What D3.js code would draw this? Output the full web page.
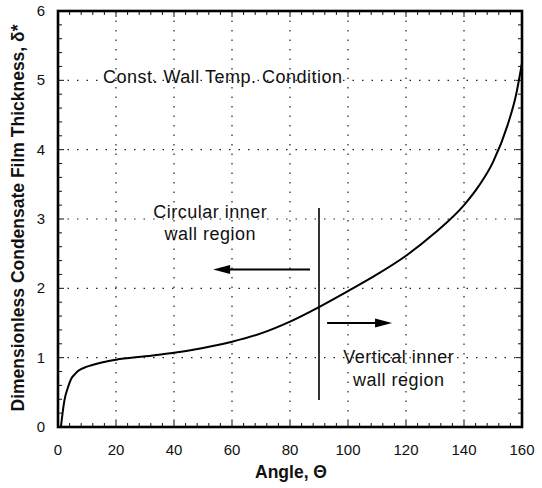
<html>
<head>
<meta charset="utf-8">
<title>Dimensionless condensate film thickness</title>
<style>
    body { margin: 0; background: white; }
    svg { font-family: "Liberation Sans", Arial, sans-serif; }
    .tick-label { font-size: 15px; fill: #111; }
    .axis-title { font-size: 17.5px; font-weight: bold; fill: #111; }
    .note { font-size: 18px; letter-spacing: 0.5px; fill: #111; }
    .grid { stroke: #222; stroke-width: 1.2; stroke-dasharray: 1.5,8; fill: none; }
</style>
<script src="https://cdn.jsdelivr.net/npm/d3@7"></script>
</head>
<body>
<div id="chart"></div>
<script>
    // curve
    var theta = [1, 2.2, 3.5, 4.6, 6, 7, 10, 15, 20, 30, 40, 50, 60, 70, 80, 90, 100, 110, 120, 130, 140, 145, 150, 155, 158, 160];
    var delta = [0, 0.38, 0.58, 0.70, 0.77, 0.81, 0.87, 0.93, 0.97, 1.02, 1.07, 1.14, 1.23, 1.35, 1.52, 1.73, 1.96, 2.2, 2.47, 2.8, 3.2, 3.47, 3.82, 4.35, 4.8, 5.25];

    var xTicks = [0, 20, 40, 60, 80, 100, 120, 140, 160];
    var yTicks = [0, 1, 2, 3, 4, 5, 6];

    var width = 542, height = 488;
    var pLeft = 58, pRight = 522, pTop = 11, pBottom = 427;

    var x = d3.scaleLinear().domain([0, 160]).range([pLeft, pRight]);
    var y = d3.scaleLinear().domain([0, 6]).range([pBottom, pTop]);

    var svg = d3.select('#chart').append('svg')
        .attr('width', width)
        .attr('height', height);

    // dotted grid
    svg.selectAll('.gx').data(xTicks.slice(1, -1)).enter().append('line')
        .attr('class', 'grid')
        .attr('x1', d => x(d)).attr('x2', d => x(d))
        .attr('y1', pTop).attr('y2', pBottom);
    svg.selectAll('.gy').data(yTicks.slice(1, -1)).enter().append('line')
        .attr('class', 'grid')
        .attr('x1', pLeft).attr('x2', pRight)
        .attr('y1', d => y(d)).attr('y2', d => y(d));

    // inward ticks on all four sides
    var minorX = d3.range(0, 160.01, 4), minorY = d3.range(0, 6.001, 0.2);
    var ticks = svg.append('g').attr('stroke', '#111').attr('stroke-width', 1);
    minorX.forEach(function(d) {
        var len = (d % 20 === 0) ? 6 : 4;
        ticks.append('line').attr('x1', x(d)).attr('x2', x(d)).attr('y1', pBottom).attr('y2', pBottom - len);
        ticks.append('line').attr('x1', x(d)).attr('x2', x(d)).attr('y1', pTop).attr('y2', pTop + len);
    });
    minorY.forEach(function(d) {
        var len = (Math.abs(d - Math.round(d)) < 1e-6) ? 6 : 4;
        ticks.append('line').attr('x1', pLeft).attr('x2', pLeft + len).attr('y1', y(d)).attr('y2', y(d));
        ticks.append('line').attr('x1', pRight).attr('x2', pRight - len).attr('y1', y(d)).attr('y2', y(d));
    });

    // frame
    svg.append('rect')
        .attr('x', pLeft).attr('y', pTop)
        .attr('width', pRight - pLeft).attr('height', pBottom - pTop)
        .attr('fill', 'none').attr('stroke', '#000').attr('stroke-width', 2.6);

    // tick labels
    svg.selectAll('.xl').data(xTicks).enter().append('text')
        .attr('class', 'tick-label')
        .attr('x', d => x(d)).attr('y', 455)
        .attr('text-anchor', 'middle')
        .text(d => d);
    svg.selectAll('.yl').data(yTicks).enter().append('text')
        .attr('class', 'tick-label')
        .attr('x', 45).attr('y', d => y(d) + 5)
        .attr('text-anchor', 'end')
        .text(d => d);

    // axis titles
    svg.append('text').attr('class', 'axis-title')
        .attr('x', 291).attr('y', 478)
        .attr('text-anchor', 'middle')
        .text('Angle, \u0398');
    svg.append('text').attr('class', 'axis-title')
        .attr('transform', 'translate(24,218) rotate(-90)')
        .attr('text-anchor', 'middle')
        .text('Dimensionless Condensate Film Thickness, \u03b4*');

    // the curve
    var pts = theta.map((t, i) => [t, delta[i]]);
    var line = d3.line()
        .x(d => x(d[0]))
        .y(d => y(d[1]))
        .curve(d3.curveMonotoneX);
    svg.append('path')
        .datum(pts)
        .attr('d', line)
        .attr('fill', 'none')
        .attr('stroke', '#000')
        .attr('stroke-width', 2);

    // annotations
    svg.append('line')
        .attr('x1', x(90)).attr('x2', x(90))
        .attr('y1', y(0.39)).attr('y2', y(3.16))
        .attr('stroke', '#000').attr('stroke-width', 1.6);

    function arrow(t0, t1, d) {
        var dir = t1 > t0 ? 1 : -1;
        var tipX = x(t1), yy = y(d);
        svg.append('line')
            .attr('x1', x(t0)).attr('x2', tipX - dir * 10)
            .attr('y1', yy).attr('y2', yy)
            .attr('stroke', '#000').attr('stroke-width', 2);
        svg.append('path')
            .attr('d', 'M' + tipX + ',' + yy +
                       'L' + (tipX - dir * 17) + ',' + (yy - 4.5) +
                       'L' + (tipX - dir * 17) + ',' + (yy + 4.5) + 'Z')
            .attr('fill', '#000');
    }
    arrow(86.9, 53.5, 2.27);
    arrow(92.8, 115.2, 1.5);

    svg.append('text').attr('class', 'note')
        .attr('x', x(15.5)).attr('y', y(5.05) + 6)
        .text('Const. Wall Temp. Condition');
    svg.append('text').attr('class', 'note')
        .attr('x', x(52.5)).attr('y', y(3.1) + 6)
        .attr('text-anchor', 'middle')
        .text('Circular inner');
    svg.append('text').attr('class', 'note')
        .attr('x', x(52.5)).attr('y', y(2.78) + 6)
        .attr('text-anchor', 'middle')
        .text('wall region');
    svg.append('text').attr('class', 'note')
        .attr('x', x(117.5)).attr('y', y(1.01) + 6)
        .attr('text-anchor', 'middle')
        .text('Vertical inner');
    svg.append('text').attr('class', 'note')
        .attr('x', x(117.5)).attr('y', y(0.68) + 6)
        .attr('text-anchor', 'middle')
        .text('wall region');
</script>
</body>
</html>
